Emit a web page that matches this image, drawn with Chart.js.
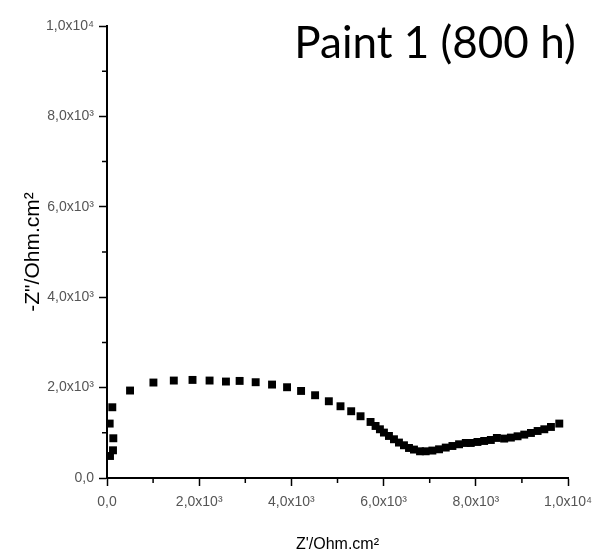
<!DOCTYPE html>
<html>
<head>
<meta charset="utf-8">
<script src="https://cdn.jsdelivr.net/npm/chart.js@4/dist/chart.umd.min.js"></script>
<style>
  html, body { margin: 0; padding: 0; background: #fff; }
  canvas { display: block; }
</style>
</head>
<body>
<canvas id="c" width="593" height="556"></canvas>
<script>
// ---- data ----
const chartTitle = 'Paint 1 (800 h)';
const xTitle = "Z'/Ohm.cm\u00B2";
const yTitle = '-Z"/Ohm.cm\u00B2';

const zReal = [65,130,137,58,115,500,1007,1449,1855,2225,2580,2877,3225,3580,3906,4210,4514,4812,5065,5297,5500,5717,5826,5920,6007,6116,6225,6333,6442,6551,6659,6790,6913,7058,7203,7348,7493,7637,7783,7891,8036,8181,8326,8457,8616,8761,8906,9051,9196,9341,9486,9630,9811];
const zImag = [487,613,879,1204,1565,1935,2112,2156,2170,2156,2134,2148,2119,2067,2008,1926,1831,1698,1587,1477,1366,1240,1151,1078,1005,930,857,784,724,664,629,591,591,607,635,673,708,746,775,775,797,819,841,886,872,894,923,960,996,1040,1078,1129,1204];

const xTickValues = [0, 2000, 4000, 6000, 8000, 10000];
const xTickLabels = ['0,0', '2,0x10\u00B3', '4,0x10\u00B3', '6,0x10\u00B3', '8,0x10\u00B3', '1,0x10\u2074'];
const yTickValues = [0, 2000, 4000, 6000, 8000, 10000];
const yTickLabels = ['0,0', '2,0x10\u00B3', '4,0x10\u00B3', '6,0x10\u00B3', '8,0x10\u00B3', '1,0x10\u2074'];
const xMinorTicks = [1000, 3000, 5000, 7000, 9000];
const yMinorTicks = [1000, 3000, 5000, 7000, 9000];

const points = zReal.map((x, i) => ({ x: x, y: zImag[i] }));

const tickFont = { family: '"Liberation Sans Narrow", "Liberation Sans", Arial, sans-serif', size: 14 };
const tickColor = '#555';

function labelFor(values, labels) {
  return function (v) {
    const i = values.indexOf(v);
    return i >= 0 ? labels[i] : '';
  };
}

const minorTicksPlugin = {
  id: 'minorTicks',
  afterDraw(chart) {
    const ctx = chart.ctx;
    const xs = chart.scales.x, ys = chart.scales.y;
    const area = chart.chartArea;
    ctx.save();
    ctx.strokeStyle = '#000';
    ctx.lineWidth = 1.5;
    ctx.beginPath();
    xMinorTicks.forEach(v => {
      const px = xs.getPixelForValue(v);
      ctx.moveTo(px, area.bottom);
      ctx.lineTo(px, area.bottom + 5);
    });
    yMinorTicks.forEach(v => {
      const py = ys.getPixelForValue(v);
      ctx.moveTo(area.left, py);
      ctx.lineTo(area.left - 5, py);
    });
    ctx.stroke();
    ctx.restore();
  }
};

const cornerTitlePlugin = {
  id: 'cornerTitle',
  afterDraw(chart) {
    const ctx = chart.ctx;
    ctx.save();
    ctx.fillStyle = '#000';
    ctx.font = '44px Lato, "Open Sans", sans-serif';
    ctx.textAlign = 'center';
    ctx.textBaseline = 'alphabetic';
    ctx.fillText(chartTitle, 435, 58);
    ctx.restore();
  }
};

new Chart(document.getElementById('c'), {
  type: 'scatter',
  data: {
    datasets: [{
      data: points,
      pointStyle: 'rect',
      pointRadius: 5.6,
      pointHoverRadius: 5.6,
      backgroundColor: '#000',
      borderColor: '#000',
      borderWidth: 0
    }]
  },
  options: {
    responsive: false,
    animation: false,
    events: [],
    layout: { padding: { left: 0, top: 26, right: 25, bottom: 0 } },
    plugins: { legend: { display: false }, tooltip: { enabled: false }, title: { display: false } },
    scales: {
      x: {
        type: 'linear',
        min: 0, max: 10000,
        afterBuildTicks(scale) { scale.ticks = xTickValues.map(v => ({ value: v })); },
        afterFit(scale) { scale.height = 78; scale.paddingLeft = 0; scale.paddingRight = 0; },
        ticks: { callback: labelFor(xTickValues, xTickLabels), font: tickFont, color: tickColor, padding: 8, maxRotation: 0, autoSkip: false },
        grid: { drawOnChartArea: false, tickLength: 8, tickWidth: 1.5, tickColor: '#000' },
        border: { display: true, color: '#000', width: 2 },
        title: { display: true, text: xTitle, font: { family: '"Liberation Sans", Arial, sans-serif', size: 16 }, color: '#000', padding: { top: 0, bottom: 2 } }
      },
      y: {
        type: 'linear',
        min: 0, max: 10000,
        afterBuildTicks(scale) { scale.ticks = yTickValues.map(v => ({ value: v })); },
        afterFit(scale) { scale.width = 107; scale.paddingTop = 0; scale.paddingBottom = 0; },
        ticks: { callback: labelFor(yTickValues, yTickLabels), font: tickFont, color: tickColor, padding: 5, autoSkip: false },
        grid: { drawOnChartArea: false, tickLength: 8, tickWidth: 1.5, tickColor: '#000' },
        border: { display: true, color: '#000', width: 2 },
        title: { display: true, text: yTitle, font: { family: '"Liberation Sans", Arial, sans-serif', size: 21 }, color: '#000', padding: { top: 21, bottom: 0 } }
      }
    }
  },
  plugins: [minorTicksPlugin, cornerTitlePlugin]
});
</script>
</body>
</html>
